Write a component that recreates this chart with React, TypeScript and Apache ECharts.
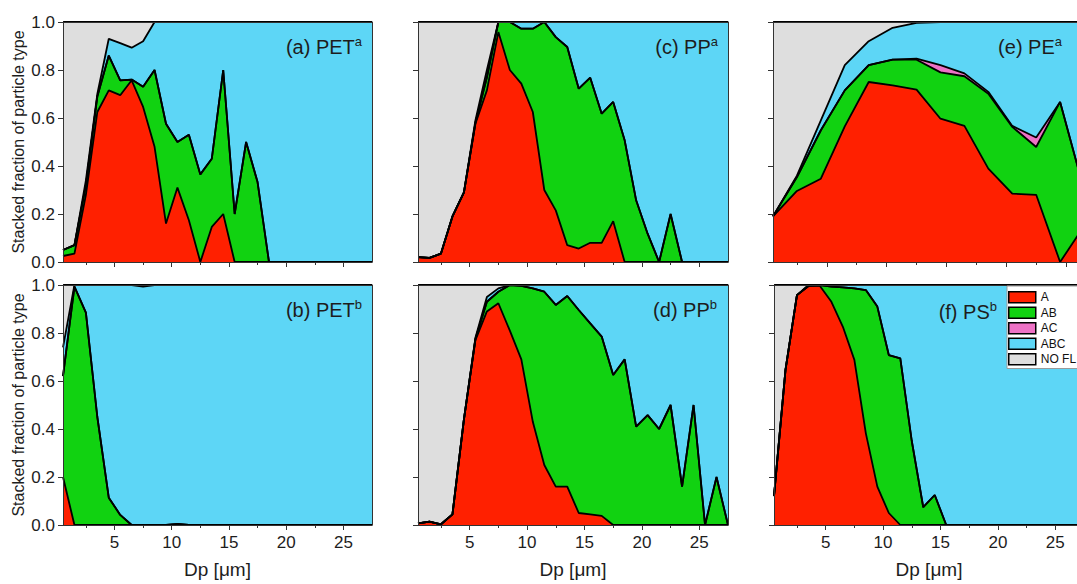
import React, { useEffect, useRef } from "react";
import * as echarts from "echarts";

// ---------- data ----------
const X_1UM = [0.5, 1.5, 2.5, 3.5, 4.5, 5.5, 6.5, 7.5, 8.5, 9.5, 10.5, 11.5, 12.5, 13.5, 14.5, 15.5, 16.5, 17.5, 18.5, 19.5, 20.5, 21.5, 22.5, 23.5, 24.5, 25.5, 26.5, 27.5];
const X_2UM = [0.5, 2.5, 4.5, 6.5, 8.5, 10.5, 12.5, 14.5, 16.5, 18.5, 20.5, 22.5, 24.5, 26.5];
const X_MAJOR_TICKS = [5, 10, 15, 20, 25];
const X_MINOR_TICKS = [2.5, 7.5, 12.5, 17.5, 22.5];

const TYPE_NAMES = ["A", "AB", "AC", "ABC", "NO FL"];
const TYPE_COLORS = ["#FF2000", "#11D211", "#EE72C6", "#5DD6F6", "#DEDEDE"];

// (a) PET a
const A_a = [0.025, 0.035, 0.28, 0.625, 0.715, 0.695, 0.757, 0.646, 0.48, 0.16, 0.31, 0.174, 0, 0.146, 0.2, 0, 0, 0, 0, 0, 0, 0, 0, 0, 0, 0, 0, 0];
const AB_a = [0.025, 0.035, 0.04, 0.065, 0.145, 0.062, 0.003, 0.084, 0.32, 0.416, 0.19, 0.356, 0.365, 0.284, 0.6, 0.2, 0.5, 0.333, 0, 0, 0, 0, 0, 0, 0, 0, 0, 0];
const AC_a = [0, 0, 0, 0, 0, 0, 0, 0, 0, 0, 0, 0, 0, 0, 0, 0, 0, 0, 0, 0, 0, 0, 0, 0, 0, 0, 0, 0];
const ABC_a = [0, 0, 0.02, 0.01, 0.07, 0.155, 0.133, 0.19, 0.2, 0.424, 0.5, 0.47, 0.635, 0.57, 0.2, 0.8, 0.5, 0.667, 1, 1, 1, 1, 1, 1, 1, 1, 1, 1];
const NOFL_a = [0.95, 0.93, 0.66, 0.3, 0.07, 0.088, 0.107, 0.08, 0, 0, 0, 0, 0, 0, 0, 0, 0, 0, 0, 0, 0, 0, 0, 0, 0, 0, 0, 0];

// (b) PET b
const A_b = [0.2, 0, 0, 0, 0, 0, 0, 0, 0, 0, 0, 0, 0, 0, 0, 0, 0, 0, 0, 0, 0, 0, 0, 0, 0, 0, 0, 0];
const AB_b = [0.42, 0.993, 0.885, 0.45, 0.114, 0.042, 0, 0, 0, 0, 0.005, 0, 0, 0, 0, 0, 0, 0, 0, 0, 0, 0, 0, 0, 0, 0, 0, 0];
const AC_b = [0, 0, 0, 0, 0, 0, 0, 0, 0, 0, 0, 0, 0, 0, 0, 0, 0, 0, 0, 0, 0, 0, 0, 0, 0, 0, 0, 0];
const ABC_b = [0.12, 0.007, 0.115, 0.55, 0.886, 0.958, 1, 0.993, 1, 1, 0.995, 1, 1, 1, 1, 1, 1, 1, 1, 1, 1, 1, 1, 1, 1, 1, 1, 1];
const NOFL_b = [0.26, 0, 0, 0, 0, 0, 0, 0.007, 0, 0, 0, 0, 0, 0, 0, 0, 0, 0, 0, 0, 0, 0, 0, 0, 0, 0, 0, 0];

// (c) PP a
const A_c = [0.02, 0.017, 0.035, 0.19, 0.29, 0.576, 0.715, 0.958, 0.8, 0.743, 0.625, 0.3, 0.215, 0.07, 0.056, 0.08, 0.08, 0.17, 0, 0, 0, 0, 0, 0, 0, 0, 0, 0];
const AB_c = [0, 0, 0, 0, 0, 0.004, 0.055, 0.042, 0.2, 0.229, 0.347, 0.7, 0.722, 0.826, 0.666, 0.688, 0.538, 0.497, 0.507, 0.257, 0.118, 0, 0.2, 0, 0, 0, 0, 0];
const AC_c = [0, 0, 0, 0, 0, 0, 0, 0, 0, 0, 0, 0, 0, 0, 0, 0, 0, 0, 0, 0, 0, 0, 0, 0, 0, 0, 0, 0];
const ABC_c = [0, 0, 0, 0, 0, 0.01, 0.03, 0, 0, 0.028, 0.028, 0, 0.063, 0.104, 0.278, 0.232, 0.382, 0.333, 0.493, 0.743, 0.882, 1, 0.8, 1, 1, 1, 1, 1];
const NOFL_c = [0.98, 0.983, 0.965, 0.81, 0.71, 0.41, 0.2, 0, 0, 0, 0, 0, 0, 0, 0, 0, 0, 0, 0, 0, 0, 0, 0, 0, 0, 0, 0, 0];

// (d) PP b
const A_d = [0.007, 0.014, 0.003, 0.044, 0.44, 0.77, 0.89, 0.924, 0.81, 0.69, 0.43, 0.25, 0.16, 0.16, 0.05, 0.044, 0.038, 0, 0, 0, 0, 0, 0, 0, 0, 0, 0, 0];
const AB_d = [0, 0, 0, 0, 0, 0.005, 0.04, 0.048, 0.19, 0.306, 0.556, 0.722, 0.757, 0.794, 0.846, 0.796, 0.747, 0.625, 0.69, 0.41, 0.458, 0.4, 0.5, 0.16, 0.5, 0, 0.2, 0];
const AC_d = [0, 0, 0, 0, 0, 0, 0, 0, 0, 0, 0, 0, 0, 0, 0, 0, 0, 0, 0, 0, 0, 0, 0, 0, 0, 0, 0, 0];
const ABC_d = [0, 0, 0, 0, 0, 0.005, 0.02, 0.014, 0, 0.004, 0.014, 0.028, 0.083, 0.046, 0.104, 0.16, 0.215, 0.375, 0.31, 0.59, 0.542, 0.6, 0.5, 0.84, 0.5, 1, 0.8, 1];
const NOFL_d = [0.993, 0.986, 0.997, 0.956, 0.56, 0.22, 0.05, 0.014, 0, 0, 0, 0, 0, 0, 0, 0, 0, 0, 0, 0, 0, 0, 0, 0, 0, 0, 0, 0];

// (e) PE a (2 µm bins)
const A_e = [0.19, 0.296, 0.347, 0.565, 0.75, 0.736, 0.718, 0.597, 0.567, 0.389, 0.285, 0.28, 0, 0.15];
const AB_e = [0, 0.058, 0.202, 0.15, 0.07, 0.107, 0.125, 0.193, 0.207, 0.312, 0.278, 0.199, 0.667, 0.15];
const AC_e = [0, 0, 0, 0, 0, 0, 0.004, 0.03, 0.012, 0.008, 0.004, 0.04, 0, 0];
const ABC_e = [0, 0.006, 0.041, 0.105, 0.1, 0.133, 0.149, 0.18, 0.214, 0.291, 0.433, 0.481, 0.333, 0.7];
const NOFL_e = [0.81, 0.64, 0.41, 0.18, 0.08, 0.024, 0.004, 0, 0, 0, 0, 0, 0, 0];

// (f) PS b
const A_f = [0.12, 0.646, 0.958, 0.996, 0.996, 0.93, 0.826, 0.688, 0.382, 0.16, 0.05, 0, 0, 0, 0, 0, 0, 0, 0, 0, 0, 0, 0, 0, 0, 0, 0, 0];
const AB_f = [0, 0, 0, 0, 0.004, 0.063, 0.164, 0.298, 0.597, 0.75, 0.658, 0.694, 0.35, 0.074, 0.125, 0, 0, 0, 0, 0, 0, 0, 0, 0, 0, 0, 0, 0];
const AC_f = [0, 0, 0, 0, 0, 0, 0, 0, 0, 0, 0, 0, 0, 0, 0, 0, 0, 0, 0, 0, 0, 0, 0, 0, 0, 0, 0, 0];
const ABC_f = [0, 0, 0, 0.004, 0, 0.007, 0.01, 0.014, 0.021, 0.09, 0.292, 0.306, 0.65, 0.926, 0.875, 1, 1, 1, 1, 1, 1, 1, 1, 1, 1, 1, 1, 1];
const NOFL_f = [0.88, 0.354, 0.042, 0, 0, 0, 0, 0, 0, 0, 0, 0, 0, 0, 0, 0, 0, 0, 0, 0, 0, 0, 0, 0, 0, 0, 0, 0];

const PANEL_LABELS = ["(a) PET", "(b) PET", "(c) PP", "(d) PP", "(e) PE", "(f) PS"];
const PANEL_SUPERS = ["a", "b", "a", "b", "a", "b"];

const PANELS = [
  { x: X_1UM, layers: [A_a, AB_a, AC_a, ABC_a, NOFL_a] },
  { x: X_1UM, layers: [A_b, AB_b, AC_b, ABC_b, NOFL_b] },
  { x: X_1UM, layers: [A_c, AB_c, AC_c, ABC_c, NOFL_c] },
  { x: X_1UM, layers: [A_d, AB_d, AC_d, ABC_d, NOFL_d] },
  { x: X_2UM, layers: [A_e, AB_e, AC_e, ABC_e, NOFL_e] },
  { x: X_1UM, layers: [A_f, AB_f, AC_f, ABC_f, NOFL_f] },
];

// ---------- layout ----------
const FONT = 'Arial, "Liberation Sans", sans-serif';
const VIEW_W = 1077;
const VIEW_H = 584;
const CANVAS_W = 1110; // the figure is cropped on the right, like the original
const COL_LEFT = [63, 418, 773];
const ROW_TOP = [22, 285];
const PANEL_H = 240;
// panel order: a(0,0) b(1,0) c(0,1) d(1,1) e(0,2) f(1,2)
const PANEL_POS = [
  { r: 0, c: 0, w: 309, dl: 0 },
  { r: 1, c: 0, w: 309, dl: 0 },
  { r: 0, c: 1, w: 310, dl: 0 },
  { r: 1, c: 1, w: 310, dl: 0 },
  { r: 0, c: 2, w: 323, dl: 0 },
  { r: 1, c: 2, w: 310, dl: 1 },
];
const TITLE_POS = [
  { x: 362, y: 47 },
  { x: 362, y: 310 },
  { x: 718, y: 47 },
  { x: 717, y: 310 },
  { x: 1062, y: 47 },
  { x: 997, y: 312 },
];

const AXIS_COLOR = "#333";
const TEXT_COLOR = "#1d1d1d";

function buildOption() {
  const grid: any[] = [];
  const xAxis: any[] = [];
  const yAxis: any[] = [];
  const series: any[] = [];
  const graphic: any[] = [];

  PANELS.forEach((p, i) => {
    const pos = PANEL_POS[i];
    const left = COL_LEFT[pos.c] + pos.dl;
    const top = ROW_TOP[pos.r];
    grid.push({ left, top, width: pos.w, height: PANEL_H, containLabel: false });
    const bottomRow = pos.r === 1;
    const leftCol = pos.c === 0;

    xAxis.push({
      gridIndex: i,
      type: "value",
      min: 0.5,
      max: 27.5,
      position: "bottom",
      z: 10,
      axisLine: { show: true, onZero: false, lineStyle: { color: AXIS_COLOR, width: 1 } },
      axisTick: { show: true, customValues: X_MAJOR_TICKS, length: 5, lineStyle: { color: AXIS_COLOR, width: 1 } },
      axisLabel: {
        show: bottomRow,
        customValues: X_MAJOR_TICKS,
        fontSize: 17,
        color: TEXT_COLOR,
        fontFamily: FONT,
        margin: 9,
      },
      splitLine: { show: false },
      name: bottomRow ? "Dp [μm]" : "",
      nameLocation: "middle",
      nameGap: 35,
      nameTextStyle: { fontSize: 19, color: TEXT_COLOR, fontFamily: FONT },
    });
    xAxis.push({
      gridIndex: i,
      type: "value",
      min: 0.5,
      max: 27.5,
      position: "bottom",
      z: 10,
      axisLine: { show: false, onZero: false },
      axisTick: { show: true, customValues: X_MINOR_TICKS, length: 3, lineStyle: { color: AXIS_COLOR, width: 1 } },
      axisLabel: { show: false },
      splitLine: { show: false },
    });
    xAxis.push({
      gridIndex: i,
      type: "value",
      min: 0.5,
      max: 27.5,
      position: "top",
      z: 10,
      axisLine: { show: true, onZero: false, lineStyle: { color: AXIS_COLOR, width: 1 } },
      axisTick: { show: false },
      axisLabel: { show: false },
      splitLine: { show: false },
    });

    yAxis.push({
      gridIndex: i,
      type: "value",
      min: 0,
      max: 1,
      interval: 0.2,
      position: "left",
      z: 10,
      axisLine: { show: true, onZero: false, lineStyle: { color: AXIS_COLOR, width: 1 } },
      axisTick: { show: true, length: 5, lineStyle: { color: AXIS_COLOR, width: 1 } },
      axisLabel: {
        show: leftCol,
        formatter: (v: number) => v.toFixed(1),
        fontSize: 17,
        color: TEXT_COLOR,
        fontFamily: FONT,
        margin: 8,
      },
      splitLine: { show: false },
      name: leftCol ? "Stacked fraction of particle type" : "",
      nameLocation: "middle",
      nameGap: 37,
      nameTextStyle: { fontSize: 16, color: TEXT_COLOR, fontFamily: FONT },
    });
    yAxis.push({
      gridIndex: i,
      type: "value",
      min: 0,
      max: 1,
      position: "right",
      z: 10,
      axisLine: { show: true, onZero: false, lineStyle: { color: AXIS_COLOR, width: 1 } },
      axisTick: { show: false },
      axisLabel: { show: false },
      splitLine: { show: false },
    });

    // cumulative tops of each particle type (stacked by hand, so each area fills from 0)
    const cumulative: number[][] = [];
    p.layers.forEach((vals, k) => {
      cumulative.push(vals.map((v, j) => (k > 0 ? cumulative[k - 1][j] : 0) + v));
    });
    // draw top layer first so lower layers paint over it
    for (let k = p.layers.length - 1; k >= 0; k--) {
      const tops = cumulative[k];
      series.push({
        type: "line",
        name: TYPE_NAMES[k],
        xAxisIndex: i * 3,
        yAxisIndex: i * 2,
        data: p.x.map((x, j) => [x, Math.min(1, tops[j])]),
        symbol: "none",
        silent: true,
        color: TYPE_COLORS[k],
        itemStyle: { color: TYPE_COLORS[k] },
        lineStyle: { color: "#000", width: 1.8 },
        areaStyle: { color: TYPE_COLORS[k], opacity: 1, origin: "start" },
        emphasis: { disabled: true },
        z: 2,
      });
    }

    const t = TITLE_POS[i];
    graphic.push({
      type: "text",
      x: t.x,
      y: t.y,
      z: 20,
      style: {
        text: "{m|" + PANEL_LABELS[i] + "}{s|" + PANEL_SUPERS[i] + "}",
        align: "right",
        verticalAlign: "middle",
        fill: TEXT_COLOR,
        rich: {
          m: { fontSize: 20, fontFamily: FONT, fill: TEXT_COLOR, lineHeight: 24, verticalAlign: "middle" },
          s: { fontSize: 13, fontFamily: FONT, fill: TEXT_COLOR, lineHeight: 14, verticalAlign: "top" },
        },
      },
    });
  });

  return {
    animation: false,
    backgroundColor: "#ffffff",
    grid,
    xAxis,
    yAxis,
    series,
    graphic,
    legend: {
      show: true,
      orient: "vertical",
      left: 1007,
      top: 286,
      padding: [5, 4, 3, 1],
      itemWidth: 27,
      itemHeight: 11,
      itemGap: 3,
      icon: "rect",
      selectedMode: false,
      backgroundColor: "#ffffff",
      borderColor: "#9a9a9a",
      borderWidth: 1,
      textStyle: { fontSize: 12, color: "#111", fontFamily: FONT, lineHeight: 11 },
      data: TYPE_NAMES.map((n, k) => ({
        name: n,
        icon: "rect",
        itemStyle: { color: TYPE_COLORS[k], borderColor: "#000", borderWidth: 1.5 },
      })),
      z: 30,
    },
  };
}

export default function App() {
  const ref = useRef<HTMLDivElement>(null);
  useEffect(() => {
    if (!ref.current) return;
    const chart = echarts.init(ref.current, null, { renderer: "svg" });
    chart.setOption(buildOption() as any);
    return () => chart.dispose();
  }, []);
  return (
    <div
      style={{
        position: "absolute",
        left: 0,
        top: 0,
        width: VIEW_W,
        height: VIEW_H,
        overflow: "hidden",
        background: "#fff",
      }}
    >
      <div ref={ref} style={{ width: CANVAS_W, height: VIEW_H }} />
    </div>
  );
}
